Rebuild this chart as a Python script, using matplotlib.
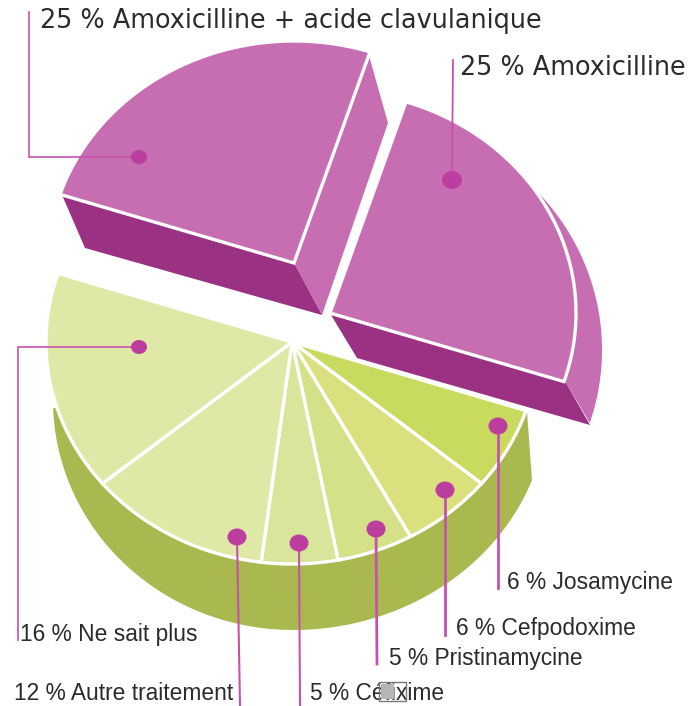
import numpy as np
import matplotlib
matplotlib.use('Agg')
import matplotlib.pyplot as plt
from matplotlib.patches import Ellipse, Rectangle

# parts in chart order, clockwise from the right-hand edge of the low half
names = ['Josamycine', 'Cefpodoxime', 'Pristinamycine', 'Céfixime', 'Autre traitement',
         'Ne sait plus', 'Amoxicilline + acide clavulanique', 'Amoxicilline']
values = [6, 6, 5, 5, 12, 16, 25, 25]
colors = ['#C8DB5F', '#DAE07E', '#D4E188', '#D9E59A', '#E0E8A8', '#E0E8A8', '#C76DB2', '#C76DB2']

PINK = '#BC3F9F'
LINE = '#C752AC'
DARK = '#9B3183'
MAUVE = '#C76DB2'
SIDE = '#AAB94F'
TXT = '#2b2b2b'

A, B = 246, 222
centers = [(292, 342)] * 6 + [(294, 263), (330, 313)]
edges = 18 + np.concatenate([[0], np.cumsum(values)]) * 3.6


def arc(cx, cy, t0, t1, a=A, b=B):
    t = np.radians(np.linspace(t0, t1, 120))
    return cx + a * np.cos(t), cy + b * np.sin(t)


fig = plt.figure(figsize=(6.96, 7.06), dpi=100)
ax = fig.add_axes([0, 0, 1, 1])
ax.set_xlim(0, 696)
ax.set_ylim(706, 0)
ax.axis('off')

# low half: green side, the right and left quarters are not quite the same width
xr, yr = arc(293, 400, 20.4, 90, 255, 230)
xl, yl = arc(293, 400, 90, 178, 240, 230)
ax.fill(np.r_[527, xr, xl], np.r_[412, yr, yl], color=SIDE, lw=0, zorder=1)

# upper right part: outer side then dark cut face
x, y = arc(352, 350, -44, 18, 250, 236)
ax.fill(np.r_[x, 565, 500], np.r_[y, 381, 170], color=MAUVE, lw=0, zorder=1)
ax.fill([331, 357, 590, 565], [315, 358, 425, 381], color=DARK, lw=0, zorder=2)

# upper left part: side face then dark cut face
ax.fill([294, 322, 388, 368], [263, 315, 123, 52], color=MAUVE, lw=0, zorder=1)
ax.fill([62, 85, 322, 294], [195, 248, 315, 263], color=DARK, lw=0, zorder=2)

# top surfaces, drawn from the values
for i, v in enumerate(values):
    cx, cy = centers[i]
    x, y = arc(cx, cy, edges[i], edges[i + 1])
    ax.fill(np.r_[cx, x], np.r_[cy, y], facecolor=colors[i], edgecolor='white', lw=2.4,
            joinstyle='miter', zorder=3)

# leader lines with their dots
leaders = [
    ([29, 29, 139], [12, 157, 157], (139, 157), 16, 14, 1.2),
    ([453, 452], [60, 180], (452, 180), 20, 18, 1.3),
    ([139, 18, 18], [347, 347, 640], (139, 347), 16, 14, 1.2),
    ([237, 240], [537, 706], (237, 537), 19, 17, 1.5),
    ([299, 300], [543, 706], (299, 543), 19, 17, 1.5),
    ([376, 377], [529, 664], (376, 529), 19, 17, 2),
    ([445, 445], [490, 635], (445, 490), 19, 17, 2),
    ([498, 498], [426, 588], (498, 426), 19, 17, 2),
]
for lx, ly, dot, w, h, lw in leaders:
    ax.plot(lx, ly, color=LINE, lw=lw, zorder=4, solid_joinstyle='miter')
    ax.add_patch(Ellipse(dot, w, h, facecolor=PINK, edgecolor='none', zorder=5))

# labels
ax.text(40, 21, '25 % Amoxicilline + acide clavulanique', family='DejaVu Sans', fontsize=18.4,
        color=TXT, va='center', zorder=6)
ax.text(460, 68, '25 % Amoxicilline', family='DejaVu Sans', fontsize=18.4, color=TXT, va='center', zorder=6)
small = [('6 % Josamycine', 507, 582), ('6 % Cefpodoxime', 456, 628), ('5 % Pristinamycine', 389, 658),
         ('16 % Ne sait plus', 20, 635), ('12 % Autre traitement', 14, 693), ('5 % Céfixime', 310, 693)]
for s, tx, ty in small:
    ax.text(tx, ty, s, family='Liberation Sans', fontsize=16.4, color=TXT, va='center', zorder=6)

# broken picture box sitting over the Cefixime label
ax.add_patch(Rectangle((381, 684), 13, 15, facecolor='#b5b5b5', edgecolor='none', zorder=7))
ax.add_patch(Rectangle((379, 682), 27, 19, fill=False, edgecolor='#777777', lw=1, zorder=8))

fig.savefig('out.png', dpi=100)
